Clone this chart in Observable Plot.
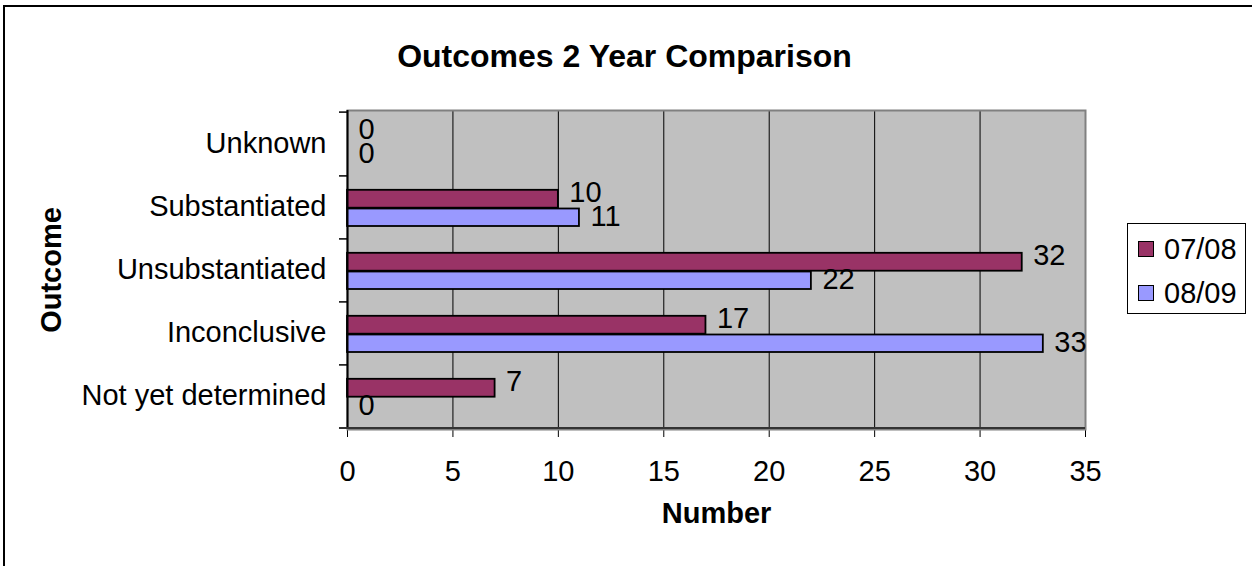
<!DOCTYPE html>
<html>
<head>
<meta charset="utf-8">
<script src="https://cdn.jsdelivr.net/npm/d3@7"></script>
<script src="https://cdn.jsdelivr.net/npm/@observablehq/plot@0.6"></script>
<style>
  html, body { margin: 0; padding: 0; background: #fff; overflow: hidden; }
  #wrap { position: relative; width: 1252px; height: 566px; overflow: hidden; font-family: "Liberation Sans", Arial, sans-serif; }
  #border { position: absolute; left: 3px; top: 5px; width: 1320px; height: 620px; border: 2px solid #000; box-sizing: border-box; pointer-events: none; }
  #chart { position: absolute; left: 0; top: 0; }
  #legend { position: absolute; left: 1127px; top: 223px; width: 119px; height: 91px; border: 1px solid #000; background: #fff; box-sizing: border-box; }
  .item { position: absolute; left: 10px; height: 30px; display: flex; align-items: center; font-size: 29px; line-height: 30px; color: #000; }
  .sw { width: 14px; height: 14px; border: 1.5px solid #000; margin-right: 10px; }
</style>
</head>
<body>
<div id="wrap">
  <div id="chart"></div>
  <div id="border"></div>
  <div id="legend"></div>
</div>
<script>
const categories = ["Unknown", "Substantiated", "Unsubstantiated", "Inconclusive", "Not yet determined"];
const seriesNames = ["07/08", "08/09"];
const values0708 = [0, 10, 32, 17, 7];
const values0809 = [0, 11, 22, 33, 0];
const xTicks = [0, 5, 10, 15, 20, 25, 30, 35];
const colors = ["#993366", "#9999FF"];
const titleText = "Outcomes 2 Year Comparison";
const xLabel = "Number";
const yLabel = "Outcome";

const rows0708 = categories.map((c, i) => ({category: c, series: seriesNames[0], value: values0708[i]}));
const rows0809 = categories.map((c, i) => ({category: c, series: seriesNames[1], value: values0809[i]}));

const halfBand = 31.9;
const font = "'Liberation Sans', Arial, sans-serif";

const plot = Plot.plot({
  width: 1252,
  height: 566,
  marginLeft: 347,
  marginRight: 167,
  marginTop: 110,
  marginBottom: 137,
  style: {fontSize: "29px", fontFamily: font, color: "#000", background: "transparent", overflow: "visible"},
  x: {domain: [0, 35], ticks: xTicks, tickSize: 8, tickPadding: 23, label: null},
  y: {domain: categories, padding: 0, tickSize: 0, tickPadding: 21, label: null},
  marks: [
    Plot.frame({fill: "#C0C0C0", stroke: "none"}),
    Plot.ruleX(xTicks.slice(1, -1), {stroke: "#000", strokeWidth: 1}),
    Plot.frame({stroke: "#808080", strokeWidth: 2, fill: "none"}),
    Plot.barX(rows0708, {x1: 0, x2: "value", y: "category", fill: colors[0], stroke: "#000", strokeWidth: 1.8, insetTop: 14.8, insetBottom: 30.3}),
    Plot.barX(rows0809, {x1: 0, x2: "value", y: "category", fill: colors[1], stroke: "#000", strokeWidth: 1.8, insetTop: 33.5, insetBottom: 12}),
    Plot.ruleX([0], {stroke: "#000", strokeWidth: 2}),
    Plot.ruleY(categories, {y: d => d, x1: -0.38, x2: 0, dy: halfBand, stroke: "#000", strokeWidth: 1.5}),
    Plot.ruleY([categories[0]], {y: d => d, x1: -0.38, x2: 0, dy: -halfBand, stroke: "#000", strokeWidth: 1.5}),
    Plot.ruleY([categories[categories.length - 1]], {y: d => d, x1: -0.38, x2: 35, dy: halfBand, stroke: "#333", strokeWidth: 2}),
    Plot.text(rows0708, {x: "value", y: "category", text: d => String(d.value), dx: 11, dy: -14, textAnchor: "start", fill: "#000"}),
    Plot.text(rows0809, {x: "value", y: "category", text: d => String(d.value), dx: 11, dy: 10, textAnchor: "start", fill: "#000"}),
    Plot.text([titleText], {text: d => d, frameAnchor: "top", textAnchor: "middle", dx: -92, dy: -66, fontSize: 32, fontWeight: "bold", fill: "#000"}),
    Plot.text([xLabel], {text: d => d, frameAnchor: "bottom", textAnchor: "middle", dx: 0, dy: 93, fontSize: 29, fontWeight: "bold", fill: "#000"}),
    Plot.text([yLabel], {text: d => d, frameAnchor: "left", textAnchor: "middle", dx: -296, dy: 0, rotate: -90, fontSize: 29, fontWeight: "bold", fill: "#000"})
  ]
});
document.getElementById("chart").appendChild(plot);

const legend = document.getElementById("legend");
seriesNames.forEach((s, i) => {
  const item = document.createElement("div");
  item.className = "item";
  item.style.top = (10 + i * 44) + "px";
  const sw = document.createElement("span");
  sw.className = "sw";
  sw.style.background = colors[i];
  const t = document.createElement("span");
  t.textContent = s;
  item.appendChild(sw);
  item.appendChild(t);
  legend.appendChild(item);
});
</script>
</body>
</html>
